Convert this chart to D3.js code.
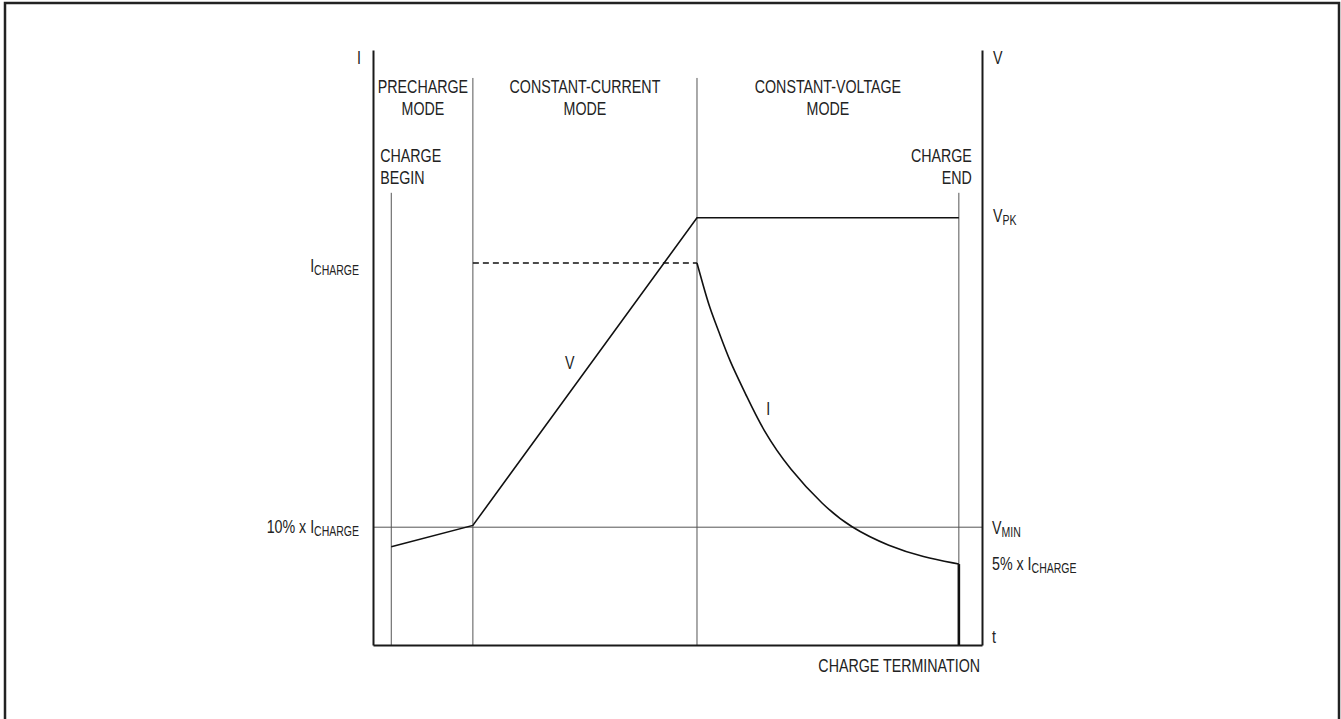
<!DOCTYPE html>
<html>
<head>
<meta charset="utf-8">
<script src="https://cdn.jsdelivr.net/npm/d3@7"></script>
<style>
  html, body { margin: 0; padding: 0; background: #fff; }
  svg { display: block; }
  text { font-family: "Liberation Sans", Arial, sans-serif; fill: #222; }
</style>
</head>
<body>
<svg id="chart"></svg>
<script>
// time (t) and level (I / V) are both in arbitrary 0-100 units
var timeDomain = [0, 100];
var levelDomain = [0, 100];

// mode boundaries and charge begin / end markers along t
var modeBounds = [16.4, 53.2];
var modeTop = 95.3;
var chargeMarks = [3.0, 96.2];
var chargeMarkTop = 76;

var modeSpans = [[0, 16.4], [16.4, 53.2], [53.2, 96.2]];
var modeNames = [["PRECHARGE", "MODE"], ["CONSTANT-CURRENT", "MODE"], ["CONSTANT-VOLTAGE", "MODE"]];

// levels
var vPeak = 71.8;
var iCharge = 64.2;
var vMin = 19.8;
var iTerm = 13.6;

// battery voltage
var voltage = [[3.0, 16.5], [16.4, 20.1], [53.2, 71.8], [96.2, 71.8]];
// charge current, constant-current part (dashed)
var currentCC = [[16.4, 64.2], [53.2, 64.2]];
// charge current, constant-voltage decay
var currentCV = [[53.2, 64.2], [54.2, 60.5], [55.3, 56.6], [56.7, 52.9], [58.6, 47.6],
  [61.1, 42.4], [64.0, 36.1], [68.5, 29.4], [73.9, 23.5], [78.3, 19.8], [84.9, 16.5],
  [90.3, 14.8], [96.2, 13.6]];
// current cut at termination
var currentEnd = [[96.2, 13.6], [96.2, 0]];

var W = 1341, H = 719;
var x = d3.scaleLinear().domain(timeDomain).range([373, 982]);
var y = d3.scaleLinear().domain(levelDomain).range([645, 50]);

var svg = d3.select("#chart").attr("width", W).attr("height", H);

// outer frame
svg.append("rect")
  .attr("x", 5).attr("y", 3).attr("width", 1334).attr("height", 730)
  .attr("fill", "none").attr("stroke", "#222").attr("stroke-width", 2.5);

var line = d3.line().x(function (d) { return x(d[0]); }).y(function (d) { return y(d[1]); });
var smooth = d3.line().curve(d3.curveBasis)
  .x(function (d) { return x(d[0]); }).y(function (d) { return y(d[1]); });

// thin guide lines
var thin = svg.append("g").attr("stroke", "#555").attr("stroke-width", 1).attr("fill", "none");
modeBounds.forEach(function (t) {
  thin.append("path").attr("d", line([[t, 0], [t, modeTop]]));
});
chargeMarks.forEach(function (t) {
  thin.append("path").attr("d", line([[t, 0], [t, chargeMarkTop]]));
});
thin.append("path").attr("d", line([[timeDomain[0], vMin], [timeDomain[1], vMin]]));

// axes (domain lines only)
var axisL = d3.axisLeft(y).tickValues([]).tickSizeOuter(0);
var axisR = d3.axisRight(y).tickValues([]).tickSizeOuter(0);
var axisB = d3.axisBottom(x).tickValues([]).tickSizeOuter(0);
svg.append("g").attr("class", "axis").attr("transform", "translate(" + x(0) + ",0)").call(axisL);
svg.append("g").attr("class", "axis").attr("transform", "translate(" + x(100) + ",0)").call(axisR);
svg.append("g").attr("class", "axis").attr("transform", "translate(0," + y(0) + ")").call(axisB);
svg.selectAll(".axis .domain").attr("stroke", "#1a1a1a").attr("stroke-width", 2);

// curves
svg.append("path").attr("d", line(voltage))
  .attr("fill", "none").attr("stroke", "#111").attr("stroke-width", 1.6);
svg.append("path").attr("d", line(currentCC))
  .attr("fill", "none").attr("stroke", "#111").attr("stroke-width", 1.6)
  .attr("stroke-dasharray", "6,4");
svg.append("path").attr("d", smooth(currentCV))
  .attr("fill", "none").attr("stroke", "#111").attr("stroke-width", 1.6);
svg.append("path").attr("d", line(currentEnd))
  .attr("fill", "none").attr("stroke", "#111").attr("stroke-width", 2.6);

// text helper: parts = [[text, isSub], ...]; condensed by a horizontal squeeze
var FS = 19, SUB = 14, SQUEEZE = 0.75;
function label(px, py, parts, anchor) {
  var g = svg.append("g").attr("transform", "translate(" + px + "," + py + ") scale(" + SQUEEZE + ",1)");
  var t = g.append("text").attr("font-size", FS).attr("text-anchor", anchor || "start");
  var shifted = false;
  parts.forEach(function (p) {
    var s = t.append("tspan").text(p[0]);
    if (p[1]) { s.attr("font-size", SUB).attr("dy", shifted ? 0 : 3); shifted = true; }
    else if (shifted) { s.attr("dy", -3); shifted = false; }
  });
  return t;
}

// mode titles
modeSpans.forEach(function (s, i) {
  var cx = (x(s[0]) + x(s[1])) / 2;
  modeNames[i].forEach(function (n, j) {
    label(cx, y(levelDomain[1]) + 43 + j * 22, [[n]], "middle");
  });
});

// charge begin / end
label(x(chargeMarks[0]) - 11, y(chargeMarkTop) - 31, [["CHARGE"]]);
label(x(chargeMarks[0]) - 11, y(chargeMarkTop) - 9, [["BEGIN"]]);
label(x(chargeMarks[1]) + 13, y(chargeMarkTop) - 31, [["CHARGE"]], "end");
label(x(chargeMarks[1]) + 13, y(chargeMarkTop) - 9, [["END"]], "end");

// axis names
label(x(0) - 16, y(100) + 14, [["I"]]);
label(x(100) + 11, y(100) + 14, [["V"]]);
label(x(100) + 10, y(0) - 2, [["t"]]);
label(x(100) - 2, y(0) + 27, [["CHARGE TERMINATION"]], "end");

// left level labels
label(x(0) - 14, y(iCharge) + 9, [["I"], ["CHARGE", true]], "end");
label(x(0) - 14, y(vMin) + 6, [["10% x I"], ["CHARGE", true]], "end");

// right level labels
label(x(100) + 11, y(vPeak) + 4, [["V"], ["PK", true]]);
label(x(100) + 10, y(vMin) + 7, [["V"], ["MIN", true]]);
label(x(100) + 10, y(iTerm) + 6, [["5% x I"], ["CHARGE", true]]);

// curve names
label(x(32.3), y(46.4), [["V"]], "middle");
label(x(64.9), y(38.7), [["I"]], "middle");
</script>
</body>
</html>
